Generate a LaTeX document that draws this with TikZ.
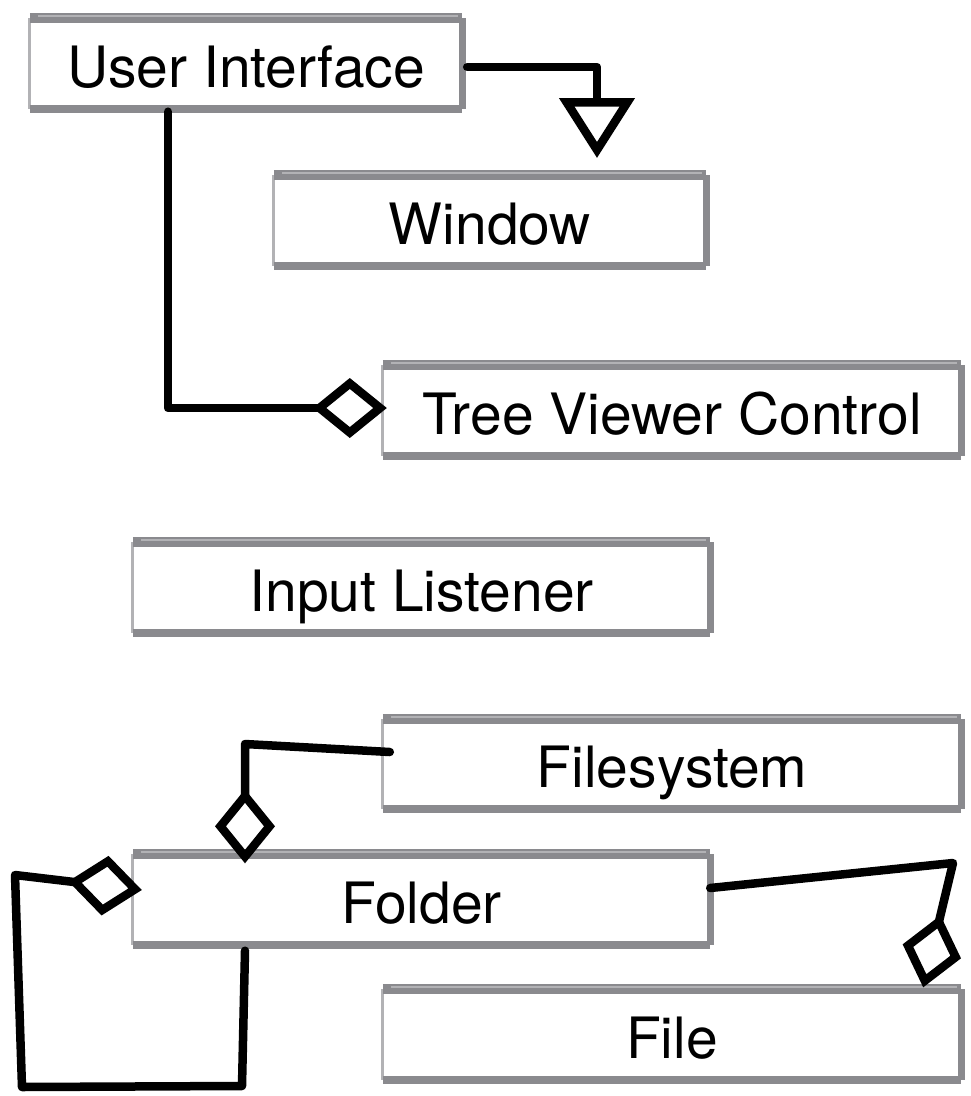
\documentclass[tikz,border=0pt]{standalone}
\usepackage{fontspec}
\setmainfont{TeX Gyre Heros}
\usetikzlibrary{arrows.meta,calc}
\definecolor{pencil}{RGB}{138,138,142}
\definecolor{pencillight}{RGB}{178,178,181}

\begin{document}
\begin{tikzpicture}[x=1pt,y=-1pt,
  box/.style={rectangle, inner sep=0pt, minimum height=90pt,
    text height=47pt, text depth=0pt,
    font=\fontsize{57}{60}\selectfont},
  link/.style={line width=8.5pt, line cap=round, line join=round},
  agg/.style={link, -{Diamond[open,length=74pt,width=60pt]}},
  gen/.style={link, -{Triangle[open,length=60pt,width=74pt]}}
]
\useasboundingbox (0,0) rectangle (971,1096);

% classes
\node[box, minimum width=432pt] (ui)  at (246,63.5)   {User Interface};
\node[box, minimum width=432pt] (win) at (490,220.5)  {Window};
\node[box, minimum width=578pt] (tvc) at (672,410.5)  {Tree Viewer Control};
\node[box, minimum width=577pt] (il)  at (421.5,587.5) {Input Listener};
\node[box, minimum width=578pt] (fs)  at (672,764)    {Filesystem};
\node[box, minimum width=577pt] (fo)  at (421.5,899.5) {Folder};
\node[box, minimum width=578pt] (fi)  at (672,1034.5) {File};

% pencil-style frames: thin left side, heavy top, right and bottom
\foreach \n in {ui,win,tvc,il,fs,fo,fi} {
  \draw[pencillight, line width=3pt] (\n.north west) -- (\n.south west);
  \draw[pencil, line width=10pt] (\n.north west) -- (\n.north east);
  \draw[pencil, line width=7pt] (\n.north east) -- (\n.south east);
  \draw[pencil, line width=8pt] (\n.south west) -- (\n.south east);
  \draw[pencillight, line width=2pt] ($(\n.north west)+(8,-2)$) -- ($(\n.north east)+(-4,-2)$);
}

% bend points
\coordinate (k1) at (597,67);
\coordinate (t1) at (597,158);
\coordinate (k2) at (168,408);
\coordinate (k3) at (245,744);
\coordinate (k4) at (245,0);
\coordinate (k4a) at (242,1086);
\coordinate (k4b) at (22,1087);
\coordinate (k4c) at (15,875);
\coordinate (k5) at (953,863);

% User Interface specialises Window
\draw[gen] ($(ui.east)+(5,3.5)$) -- (k1) -- (t1);
% User Interface aggregates Tree Viewer Control
\draw[agg] ($(ui.south -| k2)+(0,3)$) -- (k2) -- ($(tvc.west)+(4,-2.5)$);
% Folder aggregated by Filesystem
\draw[agg] ($(fs.west)+(7,-12)$) -- (k3) -- ($(fo.north -| k3)+(0,9)$);
% Folder contains Folders
\draw[agg] ($(fo.south -| k4)+(0,6)$) -- (k4a) -- (k4b) -- (k4c) -- ($(fo.west)+(9,-9.5)$);
% Folder contains Files
\draw[agg] ($(fo.east)+(0,-11.5)$) -- (k5) -- ($(fi.north east)+(-38,-2)$);
\end{tikzpicture}
\end{document}
